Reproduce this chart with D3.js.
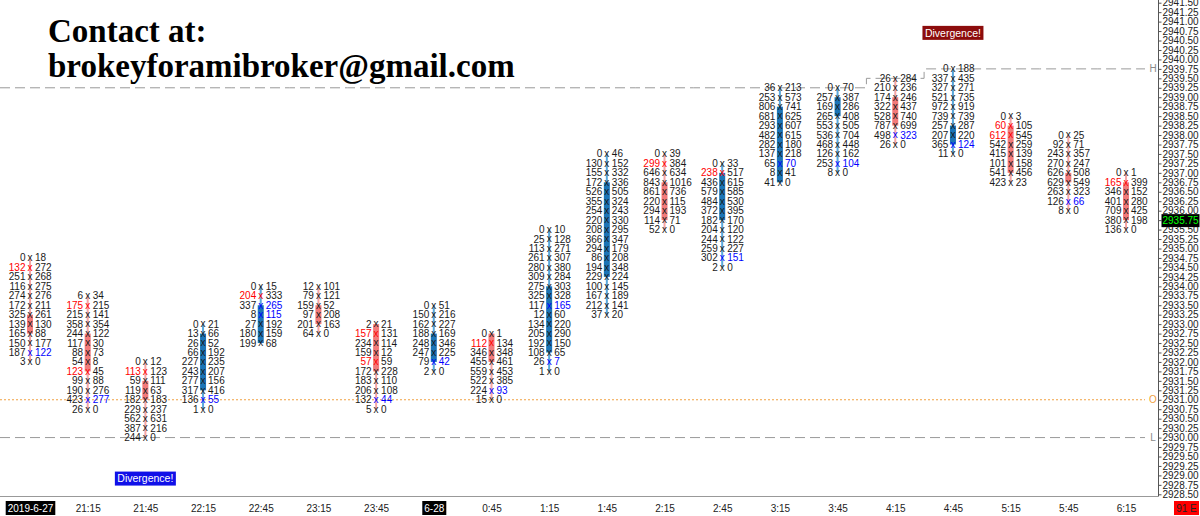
<!DOCTYPE html>
<html><head><meta charset="utf-8">
<script src="https://cdn.jsdelivr.net/npm/d3@7"></script>
<style>
html,body{margin:0;padding:0;background:#fff;}
svg{display:block;}
text{font-family:"Liberation Sans",Arial,sans-serif;}
</style></head><body>
<svg id="chart" width="1200" height="516"></svg>
<script>
// ---------- DATA ----------
const timeLabels = ["2019-6-27","21:15","21:45","22:15","22:45","23:15","23:45","6-28","0:45","1:15",
                    "1:45","2:15","2:45","3:15","3:45","4:15","4:45","5:15","5:45","6:15"];
const dateLabels = ["2019-6-27","6-28"];
const highs = [2934.75,2933.75,2932.00,2933.00,2934.00,2934.00,2933.00,2933.50,2932.75,2935.50,
               2937.50,2937.50,2937.25,2939.25,2939.25,2939.50,2939.75,2938.50,2938.00,2937.00];
const bids = [
  [0,132,251,116,274,172,325,139,165,150,187,3],
  [6,175,215,358,244,117,88,54,123,99,190,423,26],
  [0,113,59,119,182,229,562,387,244],
  [0,13,26,66,227,243,277,317,136,1],
  [0,204,337,8,27,180,199],
  [12,79,159,97,201,64],
  [2,157,234,159,57,172,183,206,132,5],
  [0,150,162,188,248,247,79,2],
  [0,112,346,455,559,522,224,15],
  [0,25,113,261,280,309,275,325,117,12,134,205,192,108,26,1],
  [0,130,155,172,526,355,254,220,208,366,294,86,194,229,100,167,212,37],
  [0,299,646,843,861,220,294,114,52],
  [0,238,436,579,484,372,182,204,244,259,302,2],
  [36,253,806,681,293,482,282,137,65,8,41],
  [0,257,169,265,553,536,468,126,253,8],
  [26,210,174,322,528,787,498,26],
  [0,337,327,521,972,739,257,207,365,11],
  [0,60,612,542,415,101,541,423],
  [0,92,243,270,626,629,263,126,8],
  [0,165,346,401,709,380,136]
];
const asks = [
  [18,272,268,275,276,211,261,130,88,177,122,0],
  [34,215,141,354,122,30,73,8,45,88,276,277,0],
  [12,123,111,63,183,237,631,216,0],
  [21,66,52,192,235,207,156,416,55,0],
  [15,333,265,115,192,159,68],
  [101,121,52,208,163,0],
  [21,131,114,12,59,228,110,108,44,0],
  [51,216,227,169,346,225,42,0],
  [1,134,348,461,453,385,93,0],
  [10,128,271,307,380,284,303,328,165,60,220,290,150,65,7,0],
  [46,152,332,336,505,324,243,330,295,347,179,208,348,224,145,189,141,20],
  [39,384,634,1016,736,115,193,71,0],
  [33,517,615,585,530,395,170,120,122,227,151,0],
  [213,573,741,625,607,615,180,218,70,41,0],
  [70,387,286,408,505,704,448,162,104,0],
  [284,236,246,437,740,699,323,0],
  [188,435,271,735,919,739,287,220,124,0],
  [3,105,545,259,139,158,456,23],
  [25,71,357,247,508,549,323,66,0],
  [1,399,152,280,425,198,0]
];
const bodyTop    = [2933.25,2932.75,2931.50,2932.75,2933.50,2933.50,2933.00,2932.75,2932.75,2934.00,
                    2936.75,2936.75,2937.00,2938.75,2939.00,2939.00,2938.25,2938.25,2937.00,2936.75];
const bodyBottom = [2932.75,2931.75,2931.00,2931.25,2932.50,2933.00,2931.75,2932.00,2932.00,2932.25,
                    2934.25,2935.75,2935.75,2936.75,2938.50,2938.25,2937.75,2937.00,2936.75,2935.75];
const barDir = ["down","down","down","up","up","down","down","up","down","up",
                "up","down","up","up","up","down","up","down","down","down"];
const redRows  = [[1],[1,8],[1],[],[1],[],[1,4],[],[1],[],[],[1],[1],[],[],[],[],[1,2],[],[1]];
const blueRows = [[10],[11],[],[8],[2,3],[],[8],[6],[6],[8,14],[],[],[10],[8],[8],[6],[8],[],[7],[]];
const highLevels = [2939.25,2939.25,2939.25,2939.25,2939.25,2939.25,2939.25,2939.25,2939.25,2939.25,
                    2939.25,2939.25,2939.25,2939.25,2939.25,2939.50,2939.75,2939.75,2939.75,2939.75];
const lowLevel = 2930.00;
const openLevel = 2931.00;
const lastPrice = 2935.75;
const priceMin = 2928.50, priceMax = 2941.50, tickStep = 0.25;
const divergenceCols = [2, 16];
const divergenceKinds = ["bull", "bear"];
const titleLines = ["Contact at:", "brokeyforamibroker@gmail.com"];
const cornerLabel = "91 E";

// ---------- DRAW ----------
const svg = d3.select("#chart");
const axisX = 1158, plotBottom = 496.5, lineEnd = 1145;
const x = d3.scalePoint().domain(timeLabels).range([30, 1126]);
const y = d3.scaleLinear().domain([priceMin, priceMax]).range([494.3, 2.7]);

// title
svg.selectAll("text.title").data(titleLines).enter().append("text")
  .attr("class","title")
  .attr("x", 48).attr("y", (d,i)=> i===0 ? 42 : 77)
  .style("font-family","'Liberation Serif','Times New Roman',serif")
  .style("font-weight","bold").style("font-size","33px").attr("fill","#000")
  .text(d=>d);

// reference lines
const hl = d3.line().curve(d3.curveStep).x(d=>d[0]).y(d=>y(d[1]));
const hpts = [[0, highLevels[0]]].concat(timeLabels.map((t,i)=>[x(t), highLevels[i]])).concat([[lineEnd, highLevels[highLevels.length-1]]]);
svg.append("path").attr("d", hl(hpts)).attr("fill","none").attr("stroke","#9a9a9a")
  .attr("stroke-width",1).attr("stroke-dasharray","10,5");
svg.append("line").attr("x1",0).attr("x2",lineEnd).attr("y1",y(lowLevel)).attr("y2",y(lowLevel))
  .attr("stroke","#9a9a9a").attr("stroke-width",1).attr("stroke-dasharray","10,5");
svg.append("line").attr("x1",0).attr("x2",lineEnd).attr("y1",y(openLevel)).attr("y2",y(openLevel))
  .attr("stroke","#f0a040").attr("stroke-width",1).attr("stroke-dasharray","2,2");
const refLabels = [["H", highLevels[highLevels.length-1], "#8a8a8a"], ["L", lowLevel, "#8a8a8a"], ["O", openLevel, "#f0a040"]];
refLabels.forEach(r=>{
  svg.append("text").attr("x",1153).attr("y",y(r[1])).attr("dy","0.35em").attr("text-anchor","middle")
    .style("font-size","10px").attr("fill",r[2]).text(r[0]);
});

// columns
timeLabels.forEach((t,i)=>{
  const cx = x(t);
  const n = bids[i].length;
  const prices = d3.range(n).map(k=>highs[i]-k*tickStep);
  const low = prices[n-1];
  const up = barDir[i]==="up";
  const g = svg.append("g");
  g.append("line").attr("x1",cx).attr("x2",cx).attr("y1",y(highs[i])).attr("y2",y(low))
    .attr("stroke", up ? "#5aa8dc" : "#f5a5a5").attr("stroke-width",2);
  g.append("rect").attr("x",cx-3).attr("width",6)
    .attr("y",y(bodyTop[i])).attr("height",y(bodyBottom[i])-y(bodyTop[i]))
    .attr("fill", up ? "#1b74b6" : "#f27a7a");
  prices.forEach((p,k)=>{
    const isRed = redRows[i].includes(k), isBlue = blueRows[i].includes(k);
    const yy = y(p);
    g.append("text").attr("x",cx-4.5).attr("y",yy).attr("dy","0.35em").attr("text-anchor","end")
      .style("font-size","10px").attr("fill", isRed ? "#ff0000" : "#1a1a1a").text(bids[i][k]);
    g.append("text").attr("x",cx).attr("y",yy).attr("dy","0.33em").attr("text-anchor","middle")
      .style("font-size","10px").attr("fill", isRed ? "#ff0000" : (isBlue ? "#0000ff" : "#1a1a1a")).text("x");
    g.append("text").attr("x",cx+5).attr("y",yy).attr("dy","0.35em").attr("text-anchor","start")
      .style("font-size","10px").attr("fill", isBlue ? "#0000ff" : "#1a1a1a").text(asks[i][k]);
  });
});

// divergence labels
divergenceCols.forEach((c,j)=>{
  const cx = x(timeLabels[c]);
  const n = bids[c].length;
  const low = highs[c]-(n-1)*tickStep;
  const cy = divergenceKinds[j]==="bull" ? y(low)+41 : y(highs[c])-36;
  svg.append("rect").attr("x",cx-30.5).attr("y",cy-7).attr("width",61).attr("height",14)
    .attr("fill", divergenceKinds[j]==="bull" ? "#1010e8" : "#8c0c0c");
  svg.append("text").attr("x",cx).attr("y",cy).attr("dy","0.35em").attr("text-anchor","middle")
    .style("font-size","10.5px").attr("fill","#fff").text("Divergence!");
});

// right axis
svg.append("line").attr("x1",axisX+0.5).attr("x2",axisX+0.5).attr("y1",0).attr("y2",plotBottom)
  .attr("stroke","#555").attr("stroke-width",1);
svg.append("line").attr("x1",0).attr("x2",axisX+0.5).attr("y1",plotBottom).attr("y2",plotBottom)
  .attr("stroke","#999").attr("stroke-width",1);
const priceTicks = d3.range(0, Math.round((priceMax-priceMin)/tickStep)+1).map(k=>priceMin+k*tickStep);
const yAxis = d3.axisRight(y).tickValues(priceTicks).tickFormat(d3.format(".2f")).tickSize(3).tickPadding(1);
const ag = svg.append("g").attr("transform",`translate(${axisX+0.5},0)`).call(yAxis);
ag.select(".domain").remove();
ag.selectAll(".tick line").attr("stroke","#555");
ag.selectAll(".tick text").style("font-size","10px").style("font-family","'Liberation Sans',Arial,sans-serif").attr("fill","#222");
// last price highlight
const lp = ag.selectAll(".tick").filter(d=>Math.abs(d-lastPrice)<1e-6);
lp.insert("rect","text").attr("x",3).attr("y",-6.5).attr("width",38).attr("height",13).attr("fill","#000");
lp.select("text").attr("fill","#00ff00");

// bottom axis
const xAxis = d3.axisBottom(x).tickSize(0).tickPadding(0);
const bg = svg.append("g").attr("transform","translate(0,501)").call(xAxis);
bg.select(".domain").remove();
bg.selectAll(".tick text").style("font-size","10px").style("font-family","'Liberation Sans',Arial,sans-serif")
  .attr("fill","#222").attr("y",7).attr("dy","0.35em");
bg.selectAll(".tick").filter(d=>dateLabels.includes(d)).each(function(){
  const tick = d3.select(this);
  const w = tick.select("text").node().getComputedTextLength();
  tick.insert("rect","text").attr("x",-w/2-2).attr("y",0).attr("width",w+4).attr("height",14).attr("fill","#000");
  tick.select("text").attr("fill","#fff");
});
// corner label
svg.append("rect").attr("x",1174).attr("y",501).attr("width",25).attr("height",14).attr("fill","#ff0000");
svg.append("text").attr("x",1186.5).attr("y",508).attr("dy","0.35em").attr("text-anchor","middle")
  .style("font-size","10px").attr("fill","#222").text(cornerLabel);
</script>
</body></html>
